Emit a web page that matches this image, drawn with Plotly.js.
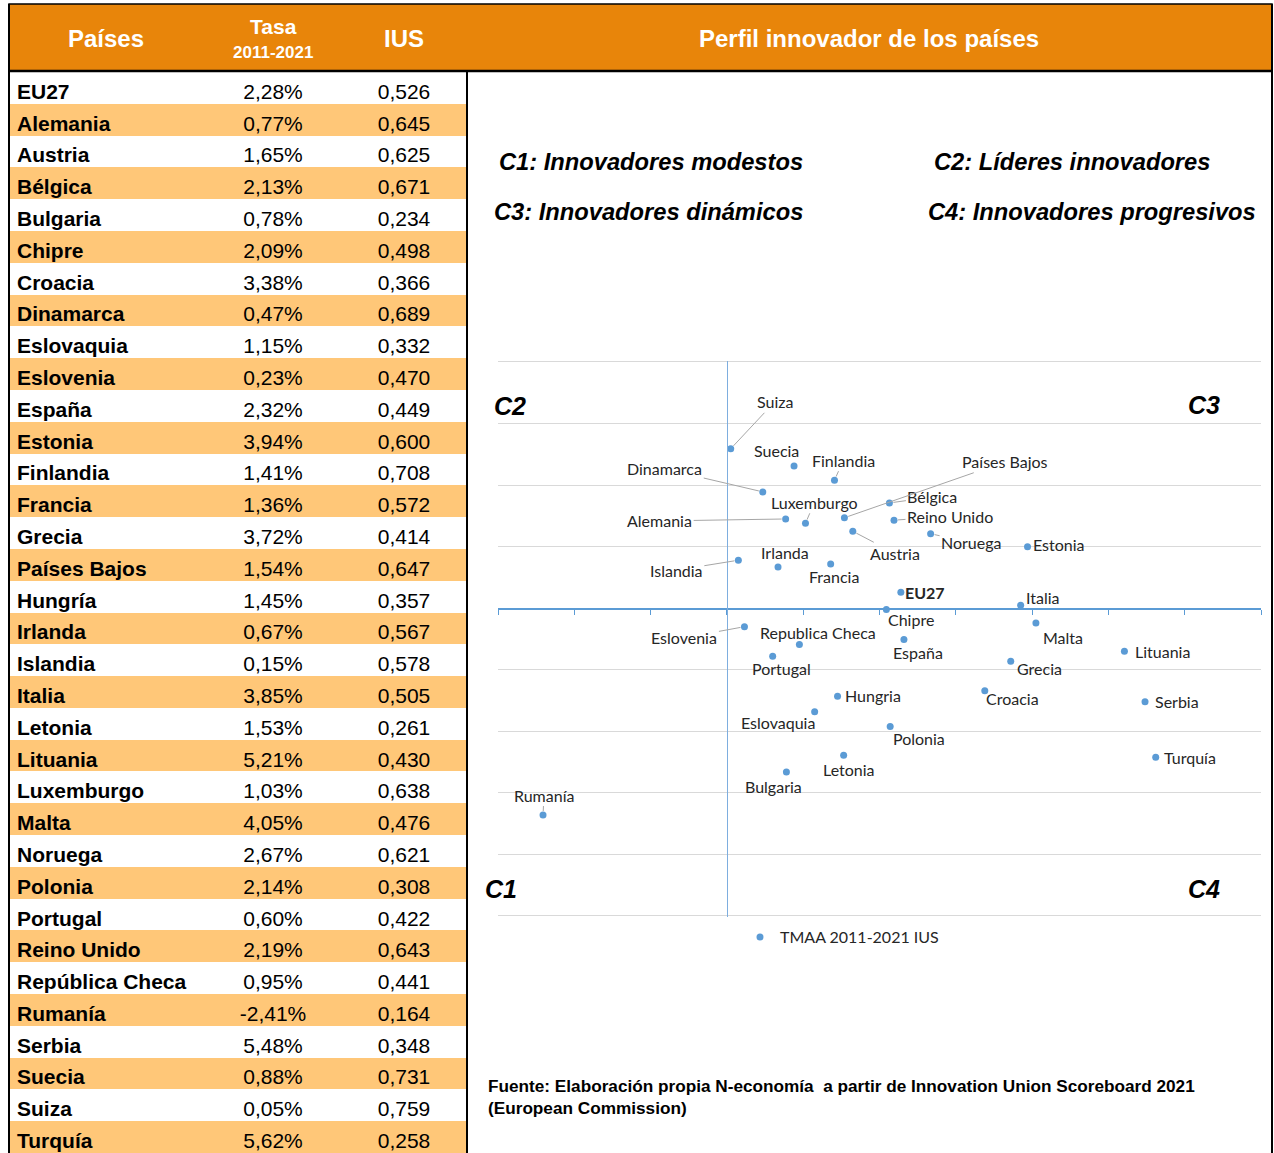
<!DOCTYPE html>
<html>
<head>
<meta charset="utf-8">
<script src="https://cdn.plot.ly/plotly-3.0.1.min.js"></script>
<style>html,body{margin:0;padding:0;background:#fff;}#chart{width:1274px;height:1153px;}</style>
</head>
<body>
<div id="chart"></div>
<script>
// ---------------- DATA ----------------
const countries = ["EU27","Alemania","Austria","Bélgica","Bulgaria","Chipre","Croacia","Dinamarca","Eslovaquia","Eslovenia","España","Estonia","Finlandia","Francia","Grecia","Países Bajos","Hungría","Irlanda","Islandia","Italia","Letonia","Lituania","Luxemburgo","Malta","Noruega","Polonia","Portugal","Reino Unido","República Checa","Rumanía","Serbia","Suecia","Suiza","Turquía"];
const tasa = [2.28,0.77,1.65,2.13,0.78,2.09,3.38,0.47,1.15,0.23,2.32,3.94,1.41,1.36,3.72,1.54,1.45,0.67,0.15,3.85,1.53,5.21,1.03,4.05,2.67,2.14,0.60,2.19,0.95,-2.41,5.48,0.88,0.05,5.62];
const ius = [0.526,0.645,0.625,0.671,0.234,0.498,0.366,0.689,0.332,0.470,0.449,0.600,0.708,0.572,0.414,0.647,0.357,0.567,0.578,0.505,0.261,0.430,0.638,0.476,0.621,0.308,0.422,0.643,0.441,0.164,0.348,0.731,0.759,0.258];
const chartLabels = ["EU27","Alemania","Austria","Bélgica","Bulgaria","Chipre","Croacia","Dinamarca","Eslovaquia","Eslovenia","España","Estonia","Finlandia","Francia","Grecia","Países Bajos","Hungria","Irlanda","Islandia","Italia","Letonia","Lituania","Luxemburgo","Malta","Noruega","Polonia","Portugal","Reino Unido","Republica Checa","Rumanía","Serbia","Suecia","Suiza","Turquía"];
const headers = ["Países","Tasa","2011-2021","IUS"];
const panelTitle = "Perfil innovador de los países";
const groupTitles = ["C1: Innovadores modestos","C2: Líderes innovadores","C3: Innovadores dinámicos","C4: Innovadores progresivos"];
const quadrantLabels = ["C1","C2","C3","C4"];
const seriesName = "TMAA 2011-2021 IUS";
const sourceNote = "Fuente: Elaboración propia N-economía  a partir de Innovation Union Scoreboard 2021<br>(European Commission)";

// ---------------- STYLE / POSITIONS ----------------
const W = 1274, H = 1153;
const px = v => v / W, py = v => 1 - v / H;
const ORANGE = "#E8850A", ROW_ORANGE = "#FFC778", BLUE = "#5B9BD5";
// label offsets [dx, dy] in screen px (dy down positive), leader line flag
const labelStyle = {
  "Suiza":[44,-47,1],"Suecia":[-18,-16,0],"Finlandia":[9,-20,1],"Dinamarca":[-98,-23,1],
  "Luxemburgo":[9,-21,1],"Países Bajos":[161,-56,1],"Bélgica":[43,-6,1],"Reino Unido":[56,-4,1],
  "Alemania":[-126,2,1],"Austria":[42,22,1],"Noruega":[41,9,1],"Estonia":[31,-2,0],
  "Irlanda":[7,-14,0],"Islandia":[-62,10,1],"Francia":[3,13,0],"EU27":[24,0,0],
  "Italia":[22,-8,0],"Chipre":[25,10,0],"Malta":[27,15,0],"Eslovenia":[-60,11,1],
  "Republica Checa":[19,-12,0],"España":[14,13,0],"Portugal":[9,12,0],"Grecia":[29,7,0],
  "Lituania":[38,0,0],"Hungria":[35,-1,0],"Croacia":[28,8,0],"Serbia":[32,0,0],
  "Eslovaquia":[-37,11,0],"Polonia":[29,12,0],"Turquía":[34,0,0],"Letonia":[5,14,0],
  "Bulgaria":[-13,15,0],"Rumanía":[1,-20,1]
};

const fmtPct = v => v.toFixed(2).replace(".", ",") + "%";
const fmtIus = v => v.toFixed(3).replace(".", ",");

// scatter axes geometry (tiny padding so edge gridlines are drawn)
const yPad = 0.002;
const xDom = [px(498), px(1261)];
const xRange = [-3, 7], yRange = [0 - yPad, 0.9 + yPad];
const yPixPerUnit = (916 - 362) / 0.9;
const yDom = [py(916 + yPad * yPixPerUnit), py(362 - yPad * yPixPerUnit)];
const xAxisPos = yDom[0] + (0.5 - yRange[0]) / (yRange[1] - yRange[0]) * (yDom[1] - yDom[0]);
const yAxisPos = xDom[0] + (0 - xRange[0]) / (xRange[1] - xRange[0]) * (xDom[1] - xDom[0]);

// table geometry
const TABLE_W = 458;
const rowIdx = countries.map((_, i) => i);
const orangeRows = rowIdx.filter(i => i % 2 === 1);
const nRows = countries.length;
const textShift = 0.18;

const traces = [
  {type:"bar", orientation:"h", xaxis:"x2", yaxis:"y2", y: orangeRows, x: orangeRows.map(() => TABLE_W),
   width: 1, marker:{color: ROW_ORANGE, line:{width:0}}, hoverinfo:"skip", showlegend:false},
  {type:"scatter", mode:"text", xaxis:"x2", yaxis:"y3", y: rowIdx, x: rowIdx.map(() => 8),
   text: countries, textposition:"middle right",
   textfont:{family:"Liberation Sans, Arial", size:21, color:"#000", weight:"bold"}, hoverinfo:"skip", showlegend:false},
  {type:"scatter", mode:"text", xaxis:"x2", yaxis:"y3", y: rowIdx, x: rowIdx.map(() => 264),
   text: tasa.map(fmtPct), textposition:"middle center",
   textfont:{family:"Liberation Sans, Arial", size:21, color:"#000"}, hoverinfo:"skip", showlegend:false},
  {type:"scatter", mode:"text", xaxis:"x2", yaxis:"y3", y: rowIdx, x: rowIdx.map(() => 395),
   text: ius.map(fmtIus), textposition:"middle center",
   textfont:{family:"Liberation Sans, Arial", size:21, color:"#000"}, hoverinfo:"skip", showlegend:false},
  {type:"scatter", mode:"markers", xaxis:"x", yaxis:"y", x: tasa, y: ius, name: seriesName,
   marker:{color: BLUE, size:7}, hoverinfo:"skip", showlegend:true}
];

const annotations = [];
chartLabels.forEach((lab, i) => {
  const s = labelStyle[lab] || [20, 0, 0];
  const a = {xref:"x", yref:"y", x: tasa[i], y: ius[i], text: lab,
    font:{family:"Lato, Carlito, sans-serif", size:16, color:"#262626", weight: lab === "EU27" ? "bold" : "normal"}};
  if (s[2]) {
    Object.assign(a, {showarrow:true, ax:s[0], ay:s[1], arrowhead:0, arrowwidth:1, arrowcolor:"#A6A6A6", standoff:4});
  } else {
    Object.assign(a, {showarrow:false, xanchor:"center", yanchor:"middle", xshift:s[0], yshift:-s[1]});
  }
  annotations.push(a);
});
const hdrFont = sz => ({family:"Liberation Sans, Arial", size:sz, color:"#fff", weight:"bold"});
const hdr = (x, y, text, sz) => ({xref:"paper", yref:"paper", x:px(x), y:py(y), xanchor:"center", yanchor:"middle",
  text, showarrow:false, font:hdrFont(sz)});
annotations.push(
  hdr(106, 38, headers[0], 24),
  hdr(273, 26, headers[1], 21),
  hdr(273, 52, headers[2], 17),
  hdr(404, 38, headers[3], 24),
  hdr(869, 38, panelTitle, 24)
);
const gFont = {family:"Liberation Sans, Arial", size:23.7, color:"#000", weight:"bold", style:"italic"};
[[497,162],[932,162],[492,212],[926,212]].forEach((p, k) => {
  annotations.push({xref:"paper", yref:"paper", x:px(p[0]), y:py(p[1]), xanchor:"left", yanchor:"middle",
    text: groupTitles[k], showarrow:false, font:gFont});
});
const qFont = {family:"Liberation Sans, Arial", size:25, color:"#000", weight:"bold", style:"italic"};
[[483,889,"left"],[492,406,"left"],[1222,405,"right"],[1222,889,"right"]].forEach((p, k) => {
  annotations.push({xref:"paper", yref:"paper", x:px(p[0]), y:py(p[1]), xanchor:p[2], yanchor:"middle",
    text: quadrantLabels[k], showarrow:false, font:qFont});
});
annotations.push({xref:"paper", yref:"paper", x:px(486), y:py(1097), xanchor:"left", yanchor:"middle", align:"left",
  text: sourceNote, showarrow:false, font:{family:"Liberation Sans, Arial", size:17.2, color:"#000", weight:"bold"}});

const shapes = [
  {type:"rect", xref:"paper", yref:"paper", x0:px(9), x1:px(1272), y0:py(71), y1:py(4), fillcolor:ORANGE, line:{color:"#000", width:1.5}, layer:"below"},
  {type:"line", xref:"paper", yref:"paper", x0:px(9), x1:px(1272), y0:py(71), y1:py(71), line:{color:"#000", width:2.5}, layer:"above"},
  {type:"line", xref:"paper", yref:"paper", x0:px(9), x1:px(9), y0:py(4), y1:0, line:{color:"#000", width:2}, layer:"above"},
  {type:"line", xref:"paper", yref:"paper", x0:px(467), x1:px(467), y0:py(71), y1:0, line:{color:"#000", width:2}, layer:"above"},
  {type:"line", xref:"paper", yref:"paper", x0:px(1272), x1:px(1272), y0:py(4), y1:0, line:{color:"#000", width:2}, layer:"above"}
];

const layout = {
  width: W, height: H, margin:{l:0, r:0, t:0, b:0, pad:0},
  paper_bgcolor:"#fff", plot_bgcolor:"rgba(0,0,0,0)",
  showlegend:true, bargap:0, hovermode:false,
  legend:{orientation:"h", x:px(842), y:py(937), xanchor:"center", yanchor:"middle",
    font:{family:"Lato, Carlito, sans-serif", size:16, color:"#262626"}, bgcolor:"rgba(0,0,0,0)", itemwidth:30},
  xaxis:{domain:xDom, range:xRange, anchor:"free", position:xAxisPos, dtick:1, tick0:0,
    showgrid:false, zeroline:false, showline:true, linecolor:BLUE, linewidth:1.3,
    ticks:"outside", ticklen:5, tickcolor:BLUE, tickwidth:1, showticklabels:false, fixedrange:true},
  yaxis:{domain:yDom, range:yRange, anchor:"free", position:yAxisPos, dtick:0.1, tick0:0,
    showgrid:true, gridcolor:"#D9D9D9", gridwidth:1, zeroline:false, showline:true, linecolor:"#7EAEDF", linewidth:1.5,
    ticks:"", showticklabels:false, fixedrange:true},
  xaxis2:{domain:[px(9), px(467)], range:[0, TABLE_W], anchor:"y2", visible:false, fixedrange:true},
  yaxis2:{domain:[0, py(72)], range:[nRows - 0.5, -0.5], anchor:"x2", visible:false, fixedrange:true},
  yaxis3:{overlaying:"y2", range:[nRows - 0.5 - textShift, -0.5 - textShift], anchor:"x2", visible:false, fixedrange:true},
  annotations, shapes
};

Plotly.newPlot("chart", traces, layout, {staticPlot:true, displayModeBar:false});
</script>
</body>
</html>
